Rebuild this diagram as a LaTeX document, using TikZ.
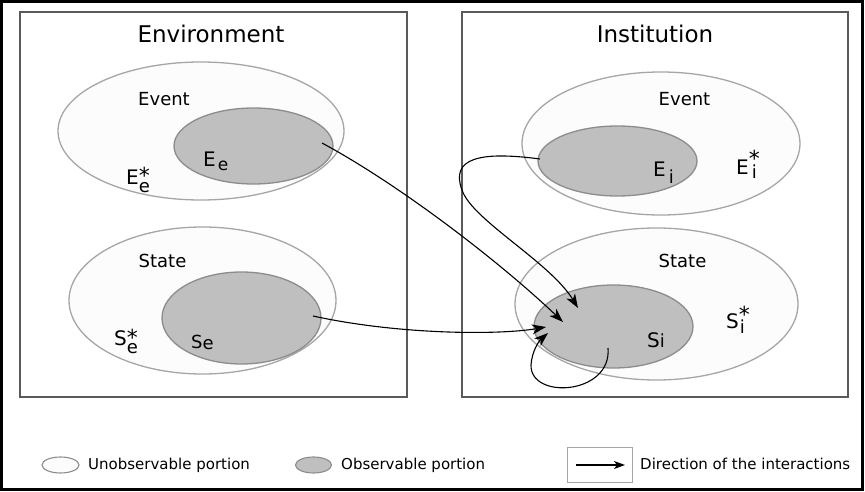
\documentclass[tikz,border=0pt]{standalone}
\usepackage{fontspec}
\setmainfont{DejaVu Sans}
\usetikzlibrary{shapes.geometric,arrows.meta}
\definecolor{outline}{HTML}{A6A6A6}
\definecolor{pale}{HTML}{FCFCFC}
\definecolor{innerline}{HTML}{8C8C8C}
\definecolor{obs}{HTML}{BFBFBF}
\definecolor{panelline}{HTML}{5A5A5A}
\newcommand{\subsz}{\fontsize{18}{20}\selectfont}
\newcommand{\astsz}{\fontsize{22}{24}\selectfont}
\begin{document}
\begin{tikzpicture}[x=1pt,y=-1pt,
  outerell/.style={ellipse,draw=outline,fill=pale,line width=1.3pt,inner sep=0},
  innerell/.style={ellipse,draw=innerline,fill=obs,line width=1.3pt,inner sep=0},
  panel/.style={rectangle,draw=panelline,line width=1.1pt,inner sep=0},
  title/.style={anchor=base,inner sep=0,font=\fontsize{23}{28}\selectfont},
  setlab/.style={anchor=base,inner sep=0,font=\fontsize{18}{22}\selectfont},
  sym/.style={anchor=base west,inner sep=0,font=\fontsize{20}{24}\selectfont},
  legtext/.style={anchor=base west,inner sep=0,font=\fontsize{15}{18}\selectfont},
  flow/.style={-{Stealth[length=14pt,width=10pt,inset=4pt]},line width=1.1pt},
  legflow/.style={-{Stealth[length=11pt,width=8pt,inset=3pt]},line width=1.1pt}]
\useasboundingbox (0,0) rectangle (865,492);
% outer frame
\draw[line width=3pt] (1.5,1.5) rectangle (862.5,489);
% panels
\node[panel,minimum width=387pt,minimum height=385pt] (envbox) at (213.5,204.5) {};
\node[panel,minimum width=386pt,minimum height=385pt] (insbox) at (655,204.5) {};
\node[title] (envtitle) at (211,43) {Environment};
\node[title] (institle) at (655,43) {Institution};
% environment ellipses
\node[outerell,minimum width=286pt,minimum height=138pt] (EvE) at (201,131) {};
\node[innerell,minimum width=159pt,minimum height=76pt] (Ee) at (253.5,146) {};
\node[outerell,minimum width=267pt,minimum height=147pt] (StE) at (202.5,300.5) {};
\node[innerell,minimum width=159pt,minimum height=92pt] (Se) at (241.5,318) {};
% institution ellipses
\node[outerell,minimum width=278pt,minimum height=143pt] (EvI) at (661,143.5) {};
\node[innerell,minimum width=159pt,minimum height=70pt] (Ei) at (617.5,161) {};
\node[outerell,minimum width=283pt,minimum height=152pt] (StI) at (656.5,304) {};
\node[innerell,minimum width=159pt,minimum height=83pt] (Si) at (613.5,326.5) {};
% labels
\node[setlab] (evlabE) at (164,106) {Event};
\node[setlab] (stlabE) at (162.5,267) {State};
\node[setlab] (evlabI) at (684.5,106) {Event};
\node[setlab] (stlabI) at (682.5,267) {State};
\node[sym] (lEe) at (203,167) {E\hspace{2pt}\raisebox{-4pt}{\fontsize{17}{18}\selectfont e}};
\node[sym] (lEes) at (126,184) {E\rlap{\raisebox{1pt}{\astsz *}}\raisebox{-9pt}{\subsz e}};
\node[sym] (lEi) at (653,177) {E\hspace{3pt}\raisebox{-6pt}{\subsz i}};
\node[sym] (lEis) at (736,175) {E\rlap{\raisebox{8pt}{\astsz *}}\hspace{3pt}\raisebox{-4pt}{\subsz i}};
\node[sym,font=\fontsize{18}{20}\selectfont] (lSe) at (191,348) {S\raisebox{-1pt}{e}};
\node[sym] (lSes) at (114,345) {S\rlap{\raisebox{0pt}{\astsz *}}\raisebox{-8pt}{\subsz e}};
\node[sym] (lSi) at (647,347) {S{\subsz i}};
\node[sym] (lSis) at (726,328) {S\rlap{\raisebox{6pt}{\astsz *}}\hspace{1pt}\raisebox{-5pt}{\subsz i}};
% interaction arrows
\coordinate (a1s) at (322,143);
\coordinate (a1e) at (563,322);
\coordinate (a2s) at (540,159);
\coordinate (a2m) at (462,190);
\coordinate (a2e) at (578,308);
\coordinate (a3s) at (313,316);
\coordinate (a3e) at (546,327);
\coordinate (a4s) at (608,348);
\coordinate (a4m) at (531,365);
\coordinate (a4e) at (548,333);
\draw[flow] (a1s) .. controls (400,185) and (500,262) .. (a1e);
\draw[flow] (a2s) .. controls (480,151) and (450,158) .. (a2m) .. controls (472,220) and (550,262) .. (a2e);
\draw[flow] (a3s) .. controls (400,335) and (500,335) .. (a3e);
\draw[flow] (a4s) .. controls (612,395) and (530,400) .. (a4m) .. controls (532,350) and (540,340) .. (a4e);
% legend
\node[outerell,draw=innerline,line width=1.1pt,minimum width=37pt,minimum height=16pt] (legU) at (60.5,465) {};
\node[legtext] (legUt) at (88,469.5) {Unobservable portion};
\node[innerell,line width=1.1pt,minimum width=36pt,minimum height=16pt] (legO) at (313.5,465) {};
\node[legtext] (legOt) at (341,469.5) {Observable portion};
\node[rectangle,draw=outline,line width=1pt,inner sep=0,minimum width=65pt,minimum height=35pt] (legbox) at (599.5,464.5) {};
\coordinate (lfs) at (576,465);
\coordinate (lfe) at (625,465);
\draw[legflow] (lfs) -- (lfe);
\node[legtext] (legAt) at (640,469.5) {Direction of the interactions};
\end{tikzpicture}
\end{document}
